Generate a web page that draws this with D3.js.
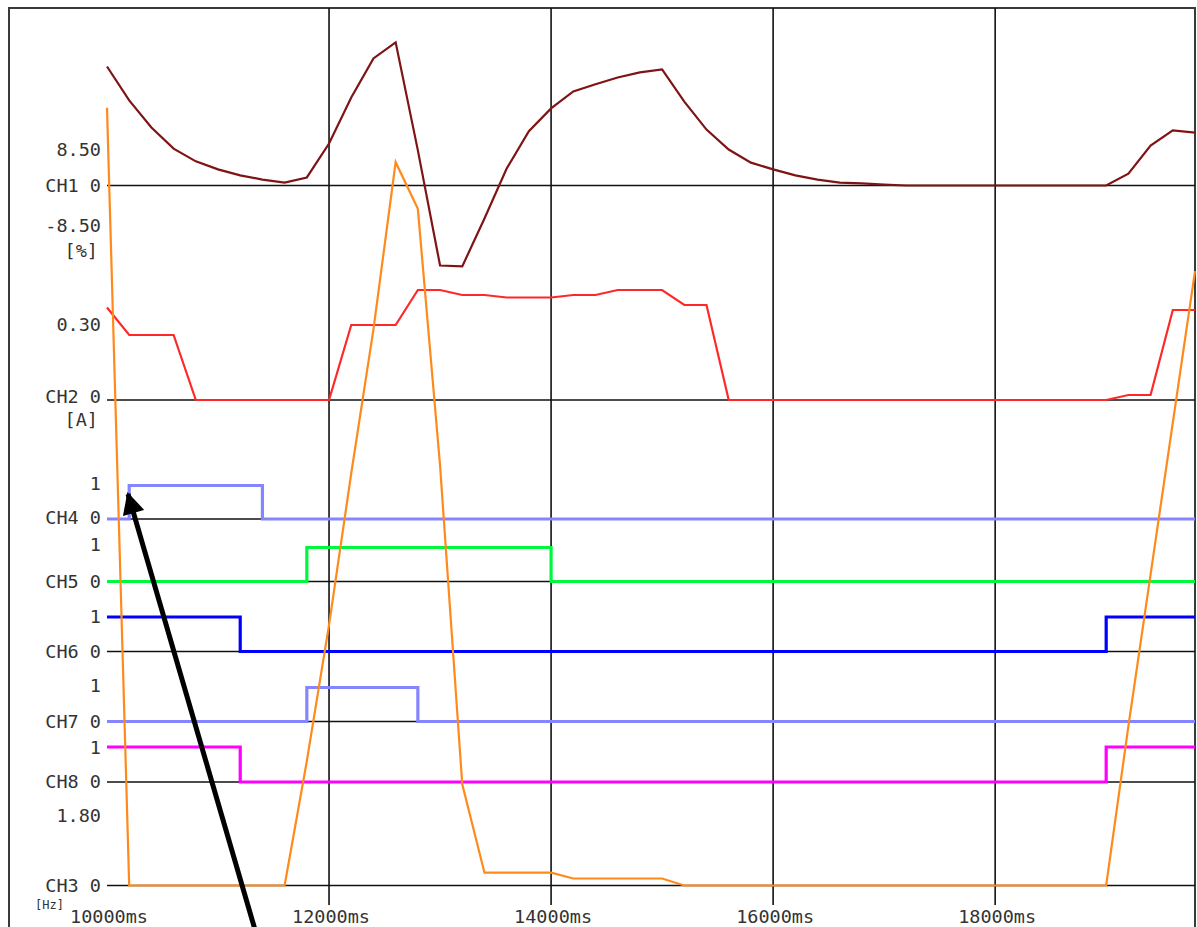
<!DOCTYPE html>
<html>
<head>
<meta charset="utf-8">
<script src="https://cdn.jsdelivr.net/npm/d3@7/dist/d3.min.js"></script>
<style>
  html, body { margin: 0; padding: 0; background: #fff; }
  svg { display: block; }
  text { font-family: "DejaVu Sans Mono", monospace; font-size: 18.5px; fill: #333; }
</style>
</head>
<body>
<svg id="chart" width="1197" height="927"></svg>
<script>
// ---------------- data ----------------
const timeMs = [10000,10200,10400,10600,10800,11000,11200,11400,11600,11800,
                12000,12200,12400,12600,12800,13000,13200,13400,13600,13800,
                14000,14200,14400,14600,14800,15000,15200,15400,15600,15800,
                16000,16200,16400,16600,16800,17000,17200,17400,17600,17800,
                18000,18200,18400,18600,18800,19000,19200,19400,19600,19800];

const xTicks = [10000, 12000, 14000, 16000, 18000];
const xTickLabels = ["10000ms", "12000ms", "14000ms", "16000ms", "18000ms"];

// CH1 [%]
const ch1 = [28.1,20.1,13.7,8.7,5.7,3.8,2.4,1.4,0.7,1.9,
             9.9,20.8,30.0,33.8,8.3,-18.9,-19.1,-7.8,4.0,12.8,
             18.2,22.2,23.9,25.5,26.7,27.4,19.8,13.2,8.5,5.4,
             3.8,2.4,1.4,0.7,0.5,0.2,0,0,0,0,
             0,0,0,0,0,0,2.8,9.4,13.0,12.5];
// CH2 [A]
const ch2 = [0.37,0.26,0.26,0.26,0,0,0,0,0,0,
             0,0.30,0.30,0.30,0.44,0.44,0.42,0.42,0.41,0.41,
             0.41,0.42,0.42,0.44,0.44,0.44,0.38,0.38,0,0,
             0,0,0,0,0,0,0,0,0,0,
             0,0,0,0,0,0,0.02,0.02,0.36,0.36];
// CH3 [Hz]
const ch3 = [20.0,0,0,0,0,0,0,0,0,3.2,
             6.7,10.6,14.3,18.6,17.4,10.8,2.6,0.33,0.33,0.33,
             0.33,0.18,0.18,0.18,0.18,0.18,0,0,0,0,
             0,0,0,0,0,0,0,0,0,0,
             0,0,0,0,0,0,4.1,8.0,11.9,15.8];
// digital channels
const ch4 = [0,1,1,1,1,1,1,0,0,0, 0,0,0,0,0,0,0,0,0,0, 0,0,0,0,0,0,0,0,0,0, 0,0,0,0,0,0,0,0,0,0, 0,0,0,0,0,0,0,0,0,0];
const ch5 = [0,0,0,0,0,0,0,0,0,1, 1,1,1,1,1,1,1,1,1,1, 0,0,0,0,0,0,0,0,0,0, 0,0,0,0,0,0,0,0,0,0, 0,0,0,0,0,0,0,0,0,0];
const ch6 = [1,1,1,1,1,1,0,0,0,0, 0,0,0,0,0,0,0,0,0,0, 0,0,0,0,0,0,0,0,0,0, 0,0,0,0,0,0,0,0,0,0, 0,0,0,0,0,1,1,1,1,1];
const ch7 = [0,0,0,0,0,0,0,0,0,1, 1,1,1,1,0,0,0,0,0,0, 0,0,0,0,0,0,0,0,0,0, 0,0,0,0,0,0,0,0,0,0, 0,0,0,0,0,0,0,0,0,0];
const ch8 = [1,1,1,1,1,1,0,0,0,0, 0,0,0,0,0,0,0,0,0,0, 0,0,0,0,0,0,0,0,0,0, 0,0,0,0,0,0,0,0,0,0, 0,0,0,0,0,1,1,1,1,1];

// ---------------- layout ----------------
const svg = d3.select("#chart");
const W = 1197, H = 927;
const plotLeft = 107, plotRight = 1195, plotTop = 8, gridBottom = 905;

const x = d3.scaleLinear().domain([10000, 19800]).range([plotLeft, plotRight]);

const channels = [
  {name:"CH1", vals:ch1, ref:8.5,  zeroY:185.5, refY:149.5, color:"#7f1414", w:2.2, step:false,
   labels:[{t:"8.50", v:8.5}, {t:"CH1 0", v:0}, {t:"-8.50", v:-9.4}], unit:"[%]", unitV:-15.4, unitX:98},
  {name:"CH2", vals:ch2, ref:0.30, zeroY:400,   refY:325,   color:"#ff2828", w:2.2, step:false,
   labels:[{t:"0.30", v:0.3}, {t:"CH2 0", v:0.012}], unit:"[A]", unitV:-0.08, unitX:98},
  {name:"CH4", vals:ch4, ref:1, zeroY:519, refY:485.5, color:"#8585ff", w:3.2, step:true,
   labels:[{t:"1", v:1.05}, {t:"CH4 0", v:0.04}]},
  {name:"CH5", vals:ch5, ref:1, zeroY:581.5, refY:547.5, color:"#00f83c", w:3.2, step:true,
   labels:[{t:"1", v:1.1}, {t:"CH5 0", v:0}]},
  {name:"CH6", vals:ch6, ref:1, zeroY:651.5, refY:617, color:"#0000ff", w:3.2, step:true,
   labels:[{t:"1", v:1.0}, {t:"CH6 0", v:0}]},
  {name:"CH7", vals:ch7, ref:1, zeroY:721.5, refY:687.5, color:"#8585ff", w:3.2, step:true,
   labels:[{t:"1", v:1.07}, {t:"CH7 0", v:0}]},
  {name:"CH8", vals:ch8, ref:1, zeroY:782, refY:747, color:"#ff00ff", w:3.2, step:true,
   labels:[{t:"1", v:0.98}, {t:"CH8 0", v:0}]},
  {name:"CH3", vals:ch3, ref:1.80, zeroY:885.5, refY:815.5, color:"#ff8a1c", w:2.2, step:false,
   labels:[{t:"1.80", v:1.8}, {t:"CH3 0", v:0}], unit:"[Hz]", unitV:-0.50, unitX:64, unitSize:12}
];
channels.forEach(c => {
  c.y = d3.scaleLinear().domain([0, c.ref]).range([c.zeroY, c.refY]);
});

// ---------------- frame ----------------
const frame = svg.append("g");
frame.append("line").attr("x1", 9).attr("x2", plotRight).attr("y1", plotTop).attr("y2", plotTop)
  .attr("stroke", "#3a3a3a").attr("stroke-width", 2);
frame.append("line").attr("x1", 9).attr("x2", 9).attr("y1", plotTop - 1).attr("y2", H)
  .attr("stroke", "#3a3a3a").attr("stroke-width", 2);
frame.append("line").attr("x1", plotRight).attr("x2", plotRight).attr("y1", plotTop - 1).attr("y2", H)
  .attr("stroke", "#3a3a3a").attr("stroke-width", 2);

// vertical grid
const grid = svg.append("g");
grid.selectAll("line.v").data(xTicks.slice(1)).join("line")
  .attr("class", "v")
  .attr("x1", d => x(d)).attr("x2", d => x(d))
  .attr("y1", plotTop).attr("y2", gridBottom)
  .attr("stroke", "#111").attr("stroke-width", 1.6);

// zero lines
grid.selectAll("line.h").data(channels).join("line")
  .attr("class", "h")
  .attr("x1", plotLeft).attr("x2", plotRight)
  .attr("y1", c => c.y(0)).attr("y2", c => c.y(0))
  .attr("stroke", "#111").attr("stroke-width", 1.6);

// x tick labels
svg.append("g").selectAll("text").data(xTicks).join("text")
  .attr("x", d => x(d) + 2).attr("y", 923)
  .attr("text-anchor", "middle")
  .text((d, i) => xTickLabels[i]);

// channel labels
const lab = svg.append("g");
channels.forEach(c => {
  c.labels.forEach(l => {
    lab.append("text").attr("x", 101).attr("y", c.y(l.v)).attr("dy", "0.35em")
      .attr("text-anchor", "end").text(l.t);
  });
  if (c.unit) {
    const t = lab.append("text").attr("x", c.unitX).attr("y", c.y(c.unitV)).attr("dy", "0.35em")
      .attr("text-anchor", "end").text(c.unit);
    if (c.unitSize) t.style("font-size", c.unitSize + "px");
  }
});

// series
const order = ["CH1", "CH2", "CH4", "CH5", "CH6", "CH7", "CH8", "CH3"];
const series = svg.append("g");
order.forEach(n => {
  const c = channels.find(d => d.name === n);
  const line = d3.line()
    .x((d, i) => x(timeMs[i]))
    .y(d => c.y(d))
    .curve(c.step ? d3.curveStepAfter : d3.curveLinear);
  series.append("path")
    .datum(c.vals)
    .attr("d", line)
    .attr("fill", "none")
    .attr("stroke", c.color)
    .attr("stroke-width", c.w)
    .attr("stroke-linejoin", "miter")
    .attr("stroke-linecap", "butt");
});

// annotation arrow
const defs = svg.append("defs");
defs.append("marker").attr("id", "arrowhead")
  .attr("viewBox", "0 0 10 10").attr("refX", 9).attr("refY", 5)
  .attr("markerUnits", "userSpaceOnUse")
  .attr("markerWidth", 24).attr("markerHeight", 22).attr("orient", "auto")
  .append("path").attr("d", "M0,0 L10,5 L0,10 z").attr("fill", "#000");
svg.append("line")
  .attr("x1", 258).attr("y1", 940).attr("x2", 128).attr("y2", 494)
  .attr("stroke", "#000").attr("stroke-width", 5)
  .attr("marker-end", "url(#arrowhead)");
</script>
</body>
</html>
